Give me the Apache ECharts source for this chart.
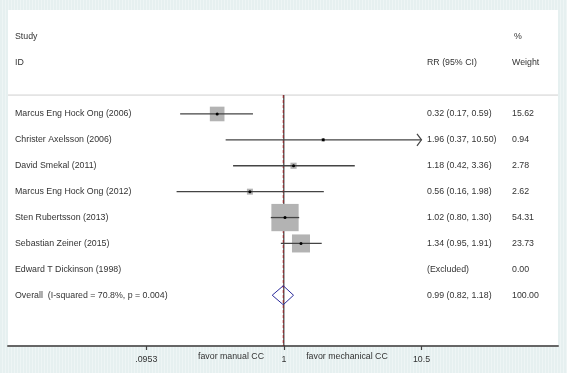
<!DOCTYPE html>
<html>
<head>
<meta charset="utf-8">
<script src="https://cdn.jsdelivr.net/npm/echarts@6/dist/echarts.min.js"></script>
<style>
  html, body { margin: 0; padding: 0; }
  body {
    background: repeating-linear-gradient(90deg, #e6f0f0 0px, #e6f0f0 2px, #eef5f5 2px, #eef5f5 3px);
  }
  #chart { width: 567px; height: 373px; }
</style>
</head>
<body>
<div id="chart"></div>
<script>
// study rows (top to bottom)
const studies = [
  'Marcus Eng Hock Ong (2006)',
  'Christer Axelsson (2006)',
  'David Smekal (2011)',
  'Marcus Eng Hock Ong (2012)',
  'Sten Rubertsson (2013)',
  'Sebastian Zeiner (2015)',
  'Edward T Dickinson (1998)'
];
const rr      = [0.32, 1.96, 1.18, 0.56, 1.02, 1.34, null];
const ciLow   = [0.17, 0.37, 0.42, 0.16, 0.80, 0.95, null];
const ciHigh  = [0.59, 10.50, 3.36, 1.98, 1.30, 1.91, null];
const weights = [15.62, 0.94, 2.78, 2.62, 54.31, 23.73, 0.00];

// pooled estimate
const overallLabel = 'Overall  (I-squared = 70.8%, p = 0.004)';
const overallRR = [0.99, 0.82, 1.18];
const overallWeight = 100.00;

// axis
const tickValues = [0.0953, 1, 10.5];
const tickLabels = ['.0953', '1', '10.5'];
const sideLabels = ['favor manual CC', 'favor mechanical CC'];

const FONT = '"Liberation Sans", Arial, sans-serif';
const FS = 8.8;
const TXT = '#333';
const ln = Math.log;
const nRows = studies.length;  // overall row comes right after

// data for the plots, in log space
const markData = [];
rr.forEach((v, i) => {
  if (v != null) markData.push([i, ln(v), ln(ciLow[i]), ln(ciHigh[i]), weights[i]]);
});
const textRows = studies.map((s, i) => i);
textRows.push(nRows);

const chart = echarts.init(document.getElementById('chart'), null, { renderer: 'canvas' });

function txt(x, y, s, align) {
  return { type: 'text', x: x, y: y, silent: true,
    style: { text: s, fill: TXT, fontSize: FS, fontFamily: FONT, align: align || 'left', verticalAlign: 'middle' } };
}

function renderText(params, api) {
  const i = api.value(0);
  const y = api.coord([0, i])[1];
  let name, ci, w;
  if (i < nRows) {
    name = studies[i];
    ci = rr[i] == null ? '(Excluded)'
      : rr[i].toFixed(2) + ' (' + ciLow[i].toFixed(2) + ', ' + ciHigh[i].toFixed(2) + ')';
    w = weights[i].toFixed(2);
  } else {
    name = overallLabel;
    ci = overallRR[0].toFixed(2) + ' (' + overallRR[1].toFixed(2) + ', ' + overallRR[2].toFixed(2) + ')';
    w = overallWeight.toFixed(2);
  }
  return { type: 'group', children: [txt(15, y, name), txt(427, y, ci), txt(512, y, w)] };
}

const xMaxPlot = ln(tickValues[2]);

function renderStudy(params, api) {
  const row = api.value(0);
  const c = api.coord([api.value(1), row]);
  const lo = api.coord([api.value(2), row]);
  const hiVal = api.value(3);
  const clipped = hiVal >= xMaxPlot - 1e-9;
  const hi = api.coord([Math.min(hiVal, xMaxPlot), row]);
  const side = 3.7 * Math.sqrt(api.value(4));
  const children = [
    { type: 'rect', shape: { x: c[0] - side / 2, y: c[1] - side / 2, width: side, height: side },
      style: { fill: '#b3b3b3' } },
    { type: 'line', shape: { x1: lo[0], y1: lo[1], x2: hi[0], y2: hi[1] },
      style: { stroke: '#444', lineWidth: 1.3 } },
    { type: 'circle', shape: { cx: c[0], cy: c[1], r: 1.5 }, style: { fill: '#000' } }
  ];
  if (clipped) {
    // CI runs past the plotted range: open arrow head
    children.push({ type: 'polyline',
      shape: { points: [[hi[0] - 4.5, hi[1] - 6], [hi[0], hi[1]], [hi[0] - 4.5, hi[1] + 6]] },
      style: { stroke: '#444', lineWidth: 1.2, fill: null } });
  }
  return { type: 'group', children: children };
}

function renderFrame(params, api) {
  const yDiv = api.coord([0, -0.73])[1];
  const yBot = api.coord([0, 8.96])[1];
  const left = params.coordSys.x, right = params.coordSys.x + params.coordSys.width;
  const x1 = api.coord([0, 0])[0];
  const xo = api.coord([ln(overallRR[0]), 0])[0];
  // pooled diamond
  const r = nRows;
  const d0 = api.coord([ln(overallRR[1]), r]);
  const dc = api.coord([ln(overallRR[0]), r]);
  const d1 = api.coord([ln(overallRR[2]), r]);
  return { type: 'group', children: [
    { type: 'line', shape: { x1: left, y1: yDiv, x2: right, y2: yDiv }, style: { stroke: '#cfcfcf', lineWidth: 1 } },
    { type: 'line', shape: { x1: x1, y1: yDiv, x2: x1, y2: yBot }, style: { stroke: '#111', lineWidth: 1 } },
    { type: 'line', shape: { x1: xo, y1: yDiv, x2: xo, y2: yBot },
      style: { stroke: '#9b2226', lineWidth: 1, lineDash: [3, 2] } },
    { type: 'polygon',
      shape: { points: [[d0[0], d0[1]], [dc[0], dc[1] - 9.5], [d1[0], d1[1]], [dc[0], dc[1] + 9.5]] },
      style: { stroke: '#2b2b9b', lineWidth: 1, fill: 'rgba(255,255,255,0)' } }
  ] };
}

const option = {
  backgroundColor: 'transparent',
  animation: false,
  grid: { left: 8, right: 9, top: 10, bottom: 27, show: true, backgroundColor: '#fff', borderWidth: 0 },
  xAxis: {
    type: 'value', min: -4.713, max: 4.684,
    splitLine: { show: false },
    axisLine: { show: true, onZero: false, lineStyle: { color: '#666', width: 2 } },
    axisTick: { show: true, customValues: tickValues.map(ln), length: 4, lineStyle: { color: '#444', width: 1.2 } },
    axisLabel: {
      customValues: tickValues.map(ln), margin: 9, fontSize: FS, fontFamily: FONT, color: TXT,
      formatter: (v) => {
        const k = tickValues.findIndex(t => Math.abs(ln(t) - v) < 1e-6);
        return k >= 0 ? tickLabels[k] : '';
      }
    }
  },
  yAxis: { type: 'value', inverse: true, min: -4.015, max: 8.96, show: false },
  graphic: [
    txt(15, 37, 'Study'), txt(15, 63, 'ID'),
    txt(514, 37, '%'), txt(427, 63, 'RR (95% CI)'), txt(512, 63, 'Weight'),
    txt(231, 357, sideLabels[0], 'center'),
    txt(347, 357, sideLabels[1], 'center')
  ],
  series: [
    { type: 'custom', name: 'frame', data: [[0]], renderItem: renderFrame, clip: false, silent: true },
    { type: 'custom', name: 'studies', data: markData, renderItem: renderStudy, silent: true },
    { type: 'custom', name: 'text', data: textRows.map(i => [i]), renderItem: renderText, silent: true }
  ]
};
chart.setOption(option);
</script>
</body>
</html>
